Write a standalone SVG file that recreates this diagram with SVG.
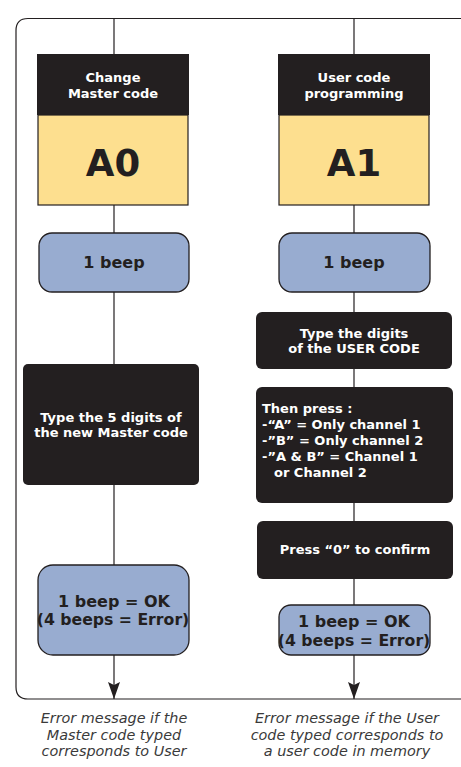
<svg xmlns="http://www.w3.org/2000/svg" width="461" height="767" viewBox="0 0 461 767">
<style>
.hdr{fill:#231f20;}
.code{fill:#fddf8f;stroke:#231f20;stroke-width:1.2;}
.beep{fill:#98acd0;stroke:#231f20;stroke-width:1.3;}
.step{fill:#231f20;}
.t{font-family:"DejaVu Sans",Verdana,sans-serif;font-weight:bold;}
.w{fill:#ffffff;font-size:13px;}
.k{fill:#231f20;}
.note{font-family:"DejaVu Sans",Verdana,sans-serif;font-style:italic;font-size:14.4px;fill:#3a3a3a;text-anchor:middle;}
.ln{stroke:#231f20;stroke-width:1.2;fill:none;}
</style>
<defs>
<marker id="arr" markerWidth="17" markerHeight="12" refX="17" refY="6" orient="auto" markerUnits="userSpaceOnUse" viewBox="0 0 17 12">
<path d="M0,0 L17,6 L0,12 L3,6 z" fill="#231f20"/>
</marker>
</defs>
<rect width="461" height="767" fill="#ffffff"/>
<g id="frame">
<path class="ln" d="M462,18.5 H28 Q16,18.5 16,30.5 V687 Q16,699 28,699 H462" stroke-width="1.3"/>
</g>
<g id="connectors">
<line class="ln" x1="114" y1="18.5" x2="114" y2="54"/>
<line class="ln" x1="114" y1="205" x2="114" y2="233"/>
<line class="ln" x1="114" y1="292" x2="114" y2="364"/>
<line class="ln" x1="114" y1="485" x2="114" y2="565"/>
<line class="ln" x1="114" y1="655" x2="114" y2="699" marker-end="url(#arr)"/>
<line class="ln" x1="354" y1="18.5" x2="354" y2="54"/>
<line class="ln" x1="354" y1="205" x2="354" y2="233"/>
<line class="ln" x1="354" y1="292" x2="354" y2="312"/>
<line class="ln" x1="354" y1="369" x2="354" y2="387"/>
<line class="ln" x1="354" y1="503" x2="354" y2="521"/>
<line class="ln" x1="354" y1="579" x2="354" y2="605"/>
<line class="ln" x1="354" y1="655" x2="354" y2="699" marker-end="url(#arr)"/>
</g>
<g id="node-a0">
<rect class="hdr" x="37" y="54" width="152" height="61"/>
<rect class="code" x="38" y="115" width="150" height="90"/>
<text class="t w" x="113" y="82" text-anchor="middle">Change</text>
<text class="t w" x="113" y="98" text-anchor="middle">Master code</text>
<text class="t k" x="113" y="176" text-anchor="middle" font-size="37">A0</text>
</g>
<g id="node-a1">
<rect class="hdr" x="278" y="54" width="152" height="61"/>
<rect class="code" x="279" y="115" width="150" height="90"/>
<text class="t w" x="354" y="82" text-anchor="middle">User code</text>
<text class="t w" x="354" y="98" text-anchor="middle">programming</text>
<text class="t k" x="354" y="176" text-anchor="middle" font-size="37">A1</text>
</g>
<g id="node-beep-left">
<rect class="beep" x="39" y="233" width="150" height="59" rx="13"/>
<text class="t k" x="114" y="268" text-anchor="middle" font-size="16">1 beep</text>
</g>
<g id="node-beep-right">
<rect class="beep" x="279" y="233" width="151" height="59" rx="13"/>
<text class="t k" x="354" y="268" text-anchor="middle" font-size="16">1 beep</text>
</g>
<g id="node-type-master">
<rect class="step" x="23" y="364" width="176" height="121" rx="5"/>
<text class="t w" x="111" y="422" text-anchor="middle">Type the 5 digits of</text>
<text class="t w" x="111" y="437" text-anchor="middle">the new Master code</text>
</g>
<g id="node-type-user">
<rect class="step" x="256" y="312" width="196" height="57" rx="6"/>
<text class="t w" x="354" y="338" text-anchor="middle">Type the digits</text>
<text class="t w" x="354" y="353" text-anchor="middle">of the USER CODE</text>
</g>
<g id="node-then-press">
<rect class="step" x="256" y="387" width="197" height="116" rx="6"/>
<text class="t w" x="262" y="413">Then press :</text>
<text class="t w" x="262" y="429">-“A” = Only channel 1</text>
<text class="t w" x="262" y="445">-”B” = Only channel 2</text>
<text class="t w" x="262" y="461">-”A &amp; B” = Channel 1</text>
<text class="t w" x="274" y="477">or Channel 2</text>
</g>
<g id="node-confirm">
<rect class="step" x="257" y="521" width="196" height="58" rx="6"/>
<text class="t w" x="355" y="554" text-anchor="middle">Press “0” to confirm</text>
</g>
<g id="node-ok-left">
<rect class="beep" x="38" y="565" width="151" height="90" rx="15"/>
<text class="t k" x="114" y="607" text-anchor="middle" font-size="16">1 beep = OK</text>
<text class="t k" x="113" y="625" text-anchor="middle" font-size="15.7">(4 beeps = Error)</text>
</g>
<g id="node-ok-right">
<rect class="beep" x="279" y="605" width="151" height="50" rx="12"/>
<text class="t k" x="354" y="627" text-anchor="middle" font-size="16">1 beep = OK</text>
<text class="t k" x="354" y="646" text-anchor="middle" font-size="15.7">(4 beeps = Error)</text>
</g>
<g id="notes">
<text class="note" x="114" y="723">Error message if the</text>
<text class="note" x="114" y="740">Master code typed</text>
<text class="note" x="114" y="756">corresponds to User</text>
<text class="note" x="347" y="723">Error message if the User</text>
<text class="note" x="347" y="740">code typed corresponds to</text>
<text class="note" x="347" y="756">a user code in memory</text>
</g>
</svg>
